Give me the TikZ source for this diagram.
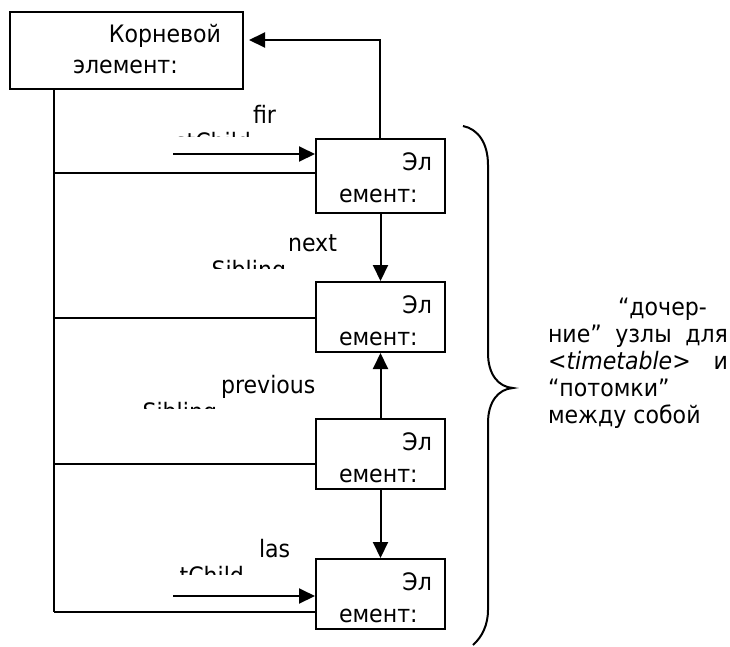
\documentclass[tikz,border=0pt]{standalone}
\usepackage{fontspec}
\setmainfont{DejaVu Sans}
\newfontfamily\boxfont[FakeStretch=0.92]{DejaVu Sans}
\usetikzlibrary{arrows.meta}
\begin{document}
\begin{tikzpicture}[x=1pt,y=-1pt,
  line width=2pt,
  box/.style={draw,line width=2pt,inner sep=0pt,minimum width=129pt,minimum height=70pt},
  arr/.style={-{Triangle[length=16pt,width=15pt]}},
  txt/.style={font=\boxfont\fontsize{24}{27}\selectfont,inner sep=0pt},
  side/.style={font=\boxfont\fontsize{24}{27}\selectfont,inner sep=0pt},
]
\useasboundingbox (0,0) rectangle (730,646);

% root box
\node[box,minimum width=233pt,minimum height=77pt] (root) at (126.5,50.5) {};
\node[txt,anchor=base east] (rt1) at (222,42) {Корневой};
\node[txt,anchor=base west] (rt2) at (72,73) {элемент:};

% element boxes
\node[box,minimum height=74pt] (e1) at (380.5,176) {};
\node[box] (e2) at (380.5,317) {};
\node[box] (e3) at (380.5,454) {};
\node[box] (e4) at (380.5,594) {};

\foreach \b/\t in {e1/139,e2/282,e3/419,e4/559}{
  \node[txt,anchor=base east] (\b a) at (433,\t+31) {Эл};
  \node[txt,anchor=base west] (\b b) at (338,\t+63) {емент:};
}

% trunk and branches
\coordinate (t0) at (54,89);
\coordinate (t4) at (54,612);
\draw (t0) -- (t4);
\draw (54,173) -- (e1.west |- 0,173);
\draw (54,318) -- (e2.west |- 0,318);
\draw (54,464) -- (e3.west |- 0,464);
\draw (t4) -- (e4.west |- 0,612);

% firstChild / lastChild arrows
\coordinate (fcs) at (173,154);
\draw[arr] (fcs) -- (e1.west |- fcs);
\coordinate (lcs) at (173,596);
\draw[arr] (lcs) -- (e4.west |- lcs);

% parent arrow
\coordinate (rtip) at (249,40);
\draw[arr] ([xshift=-1pt]e1.north) |- (rtip);

% sibling arrows
\draw[arr] (e1.south) -- (e2.north);
\draw[arr] (e3.north) -- (e2.south);
\draw[arr] (e3.south) -- (e4.north);

% labels
\node[txt,anchor=base west] (l1) at (252,123) {fir};
\begin{scope}
  \clip (140,120) rectangle (270,136.5);
  \node[txt,anchor=base east] (l1b) at (252,150) {stChild};
\end{scope}
\node[txt,anchor=base west] (l2) at (287,251) {next};
\begin{scope}
  \clip (180,250) rectangle (300,268);
  \node[txt,anchor=base east] (l2b) at (287,278) {Sibling};
\end{scope}
\node[txt,anchor=base west] (l3) at (220,393) {previous};
\begin{scope}
  \clip (120,395) rectangle (230,408.5);
  \node[txt,anchor=base east] (l3b) at (218,420) {Sibling};
\end{scope}
\node[txt,anchor=base west] (l4) at (258,557) {las};
\begin{scope}
  \clip (160,560) rectangle (260,574);
  \node[txt,anchor=base east] (l4b) at (245,584) {tChild};
\end{scope}

% brace
\draw (463,126) .. controls (478,129) and (488,143) .. (488,165) -- (488,353)
  .. controls (488,374) and (498,387) .. (513,388)
  .. controls (498,389) and (488,402) .. (488,423) -- (488,610)
  .. controls (488,625) and (482,637) .. (473,645);

% side text
\node[side,anchor=base west] (s1) at (617,315) {“дочер-};
\node[side,anchor=base west] (s2) at (547,342) {\makebox[180pt][s]{ние”\hfill узлы\hfill для}};
\node[side,anchor=base west] (s3) at (547,369) {\makebox[180pt][s]{<\textit{timetable}>\hfill и}};
\node[side,anchor=base west] (s4) at (547,396) {“потомки”};
\node[side,anchor=base west] (s5) at (547,423) {между собой};
\end{tikzpicture}
\end{document}
